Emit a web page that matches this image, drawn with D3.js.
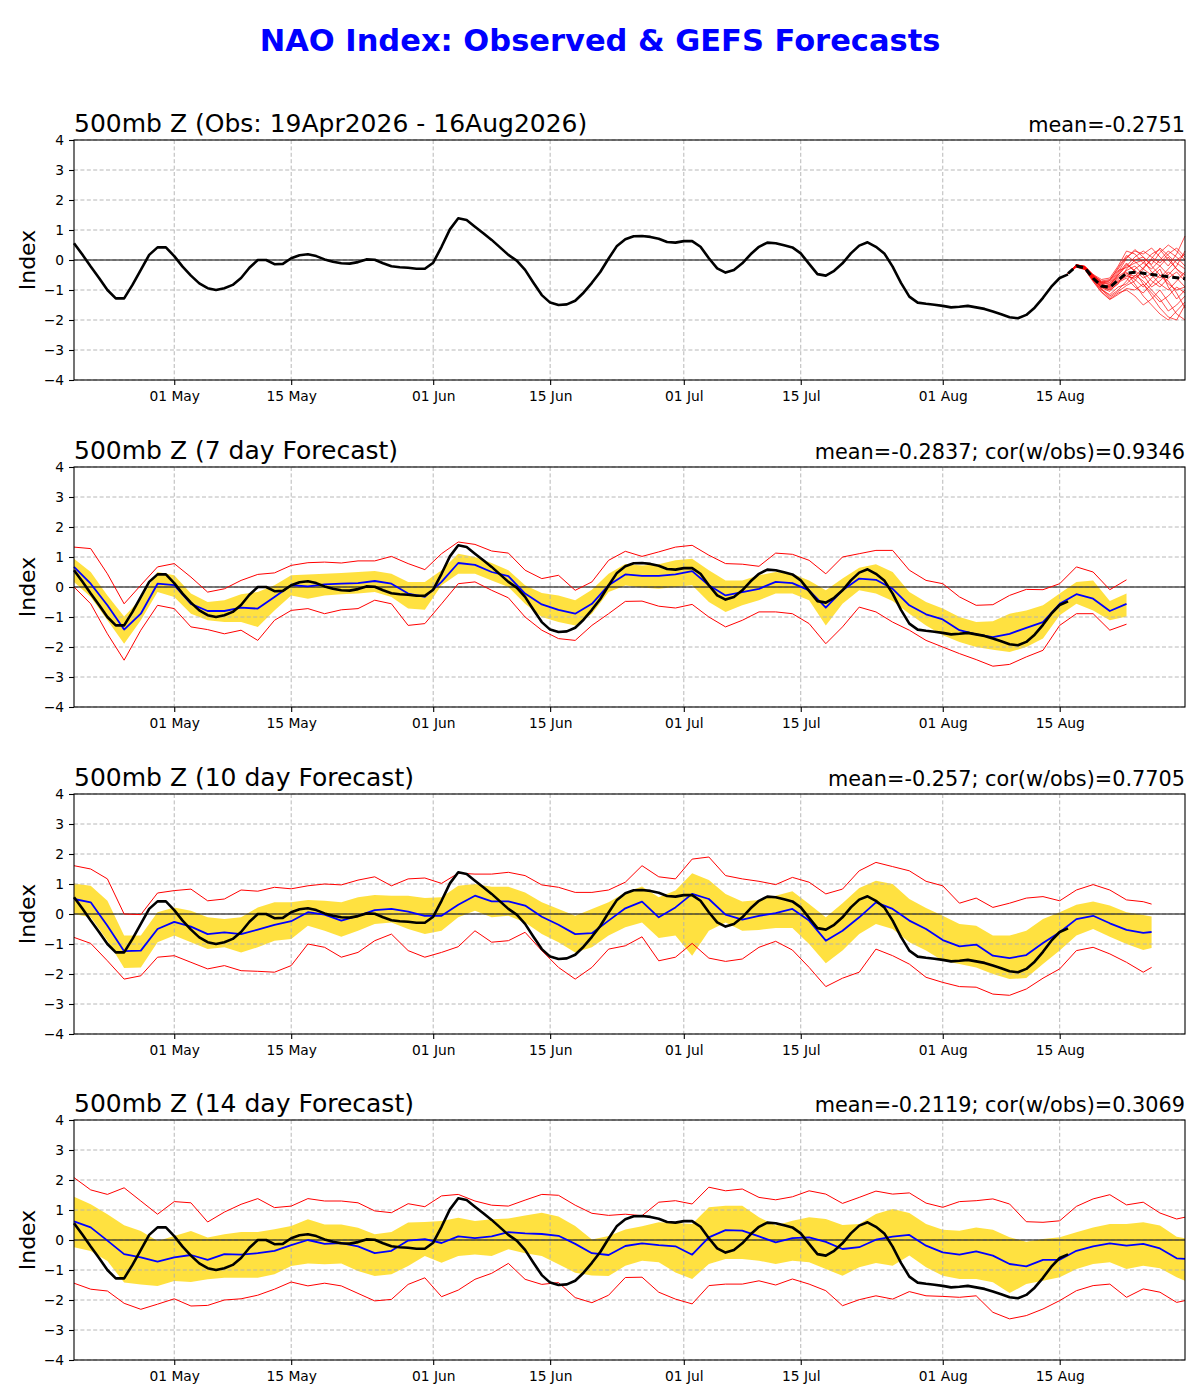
<!DOCTYPE html>
<html>
<head>
<meta charset="utf-8">
<title>NAO Index: Observed &amp; GEFS Forecasts</title>
<script src="https://cdn.jsdelivr.net/npm/d3@7/dist/d3.min.js"></script>
<style>
  body { margin: 0; background: #fff; }
  svg text { font-family: "DejaVu Sans", sans-serif; fill: #000; }
</style>
</head>
<body>
<div id="chart"></div>
<script>
// ---------------- data ----------------
const startDate = new Date(Date.UTC(2026, 3, 19));   // 19 Apr 2026 = day 0
const endDate = new Date(Date.UTC(2026, 7, 30));     // 30 Aug 2026 = day 133
const xTickDates = ['2026-05-01', '2026-05-15', '2026-06-01', '2026-06-15',
                    '2026-07-01', '2026-07-15', '2026-08-01', '2026-08-15'];
const yTicks = [-4, -3, -2, -1, 0, 1, 2, 3, 4];

const panelTitles = ['500mb Z (Obs: 19Apr2026 - 16Aug2026)', '500mb Z (7 day Forecast)',
                     '500mb Z (10 day Forecast)', '500mb Z (14 day Forecast)'];
const panelStats = ['mean=-0.2751', 'mean=-0.2837; cor(w/obs)=0.9346',
                    'mean=-0.257; cor(w/obs)=0.7705', 'mean=-0.2119; cor(w/obs)=0.3069'];

// observed NAO index, daily from 19 Apr to 16 Aug
const obsIndex = [
  0.56, 0.18, -0.22, -0.60, -1.00, -1.28, -1.28, -0.83, -0.33, 0.17,
  0.42, 0.42, 0.13, -0.22, -0.52, -0.78, -0.94, -1.00, -0.94, -0.83,
  -0.60, -0.26, 0.00, 0.00, -0.14, -0.13, 0.06, 0.16, 0.19, 0.13,
  0.02, -0.06, -0.11, -0.12, -0.07, 0.02, 0.01, -0.11, -0.21, -0.24,
  -0.26, -0.29, -0.29, -0.09, 0.44, 1.02, 1.39, 1.33, 1.11, 0.89,
  0.67, 0.42, 0.17, -0.02, -0.33, -0.76, -1.17, -1.42, -1.50, -1.48,
  -1.36, -1.09, -0.76, -0.40, 0.05, 0.47, 0.69, 0.79, 0.80, 0.77,
  0.71, 0.60, 0.58, 0.63, 0.63, 0.44, 0.06, -0.28, -0.42, -0.33,
  -0.11, 0.19, 0.44, 0.58, 0.56, 0.49, 0.42, 0.22, -0.13, -0.47,
  -0.52, -0.36, -0.11, 0.22, 0.48, 0.59, 0.44, 0.22, -0.22, -0.76,
  -1.22, -1.42, -1.46, -1.49, -1.53, -1.58, -1.56, -1.53, -1.58, -1.63,
  -1.72, -1.81, -1.91, -1.94, -1.83, -1.59, -1.26, -0.89, -0.60, -0.48
];

// GEFS ensemble members from 16 Aug to 30 Aug (days 119..133)
const ensDays = d3.range(119, 134);
const ensMembers = [
  [-0.45, -0.15, -0.22, -0.50, -0.70, -0.65, -0.30, 0.10, 0.30, 0.20, 0.40, 0.10, -0.20, 0.20, 0.80],
  [-0.45, -0.18, -0.25, -0.55, -0.80, -0.90, -0.60, -0.40, -0.80, -1.20, -1.50, -1.80, -2.00, -1.70, -1.40],
  [-0.45, -0.20, -0.28, -0.62, -0.95, -1.20, -1.00, -0.70, -0.30, -0.10, 0.20, 0.35, 0.00, -0.30, -0.50],
  [-0.45, -0.22, -0.30, -0.70, -1.05, -1.30, -1.10, -1.00, -1.20, -1.50, -1.30, -1.00, -1.40, -1.80, -2.00],
  [-0.45, -0.17, -0.20, -0.48, -0.65, -0.60, -0.20, 0.30, 0.20, -0.10, -0.30, 0.00, 0.30, 0.10, -0.20],
  [-0.45, -0.19, -0.24, -0.58, -0.85, -0.95, -0.70, -0.55, -0.60, -0.40, -0.70, -0.90, -0.60, -0.40, -0.70],
  [-0.45, -0.21, -0.27, -0.65, -0.90, -1.00, -0.80, -0.30, 0.00, 0.10, -0.20, -0.50, -0.80, -1.00, -0.90],
  [-0.45, -0.16, -0.23, -0.52, -0.75, -0.80, -0.45, -0.10, -0.40, -0.80, -1.10, -1.40, -1.20, -0.90, -1.10],
  [-0.45, -0.20, -0.26, -0.60, -0.88, -0.85, -0.50, -0.20, 0.10, 0.30, 0.10, -0.10, 0.20, 0.40, 0.10],
  [-0.45, -0.23, -0.31, -0.68, -1.00, -1.15, -0.90, -0.80, -0.50, -0.70, -1.00, -1.30, -1.70, -1.50, -1.20],
  [-0.45, -0.18, -0.24, -0.56, -0.78, -0.70, -0.35, -0.25, -0.10, 0.00, -0.40, -0.60, -0.30, 0.00, 0.20],
  [-0.45, -0.20, -0.29, -0.64, -0.92, -1.05, -0.75, -0.60, -0.90, -1.10, -0.80, -0.50, -0.70, -1.10, -1.60],
  [-0.45, -0.17, -0.21, -0.50, -0.72, -0.75, -0.40, 0.05, 0.35, 0.10, -0.15, 0.25, 0.50, 0.30, 0.00],
  [-0.45, -0.22, -0.28, -0.66, -0.98, -1.25, -1.05, -0.85, -0.70, -0.30, -0.50, -0.80, -1.00, -0.70, -0.40],
  [-0.45, -0.19, -0.25, -0.57, -0.82, -0.88, -0.55, -0.35, -0.20, -0.50, -0.90, -0.70, -0.40, -0.60, -0.90],
  [-0.45, -0.21, -0.26, -0.61, -0.87, -0.92, -0.65, -0.45, -0.55, -0.25, 0.00, -0.20, -0.50, -0.20, 0.30],
  [-0.45, -0.16, -0.22, -0.54, -0.77, -0.82, -0.50, -0.15, -0.35, -0.60, -0.45, -0.20, 0.10, -0.30, -0.60],
  [-0.45, -0.24, -0.32, -0.72, -1.08, -1.32, -1.15, -0.95, -1.00, -0.80, -1.20, -1.60, -1.90, -2.00, -1.50],
  [-0.45, -0.18, -0.23, -0.53, -0.74, -0.68, -0.25, 0.15, -0.05, -0.30, 0.05, 0.40, 0.15, -0.10, -0.30],
  [-0.45, -0.20, -0.27, -0.62, -0.90, -0.98, -0.72, -0.50, -0.65, -0.90, -0.60, -0.30, -0.90, -1.30, -1.00]
];
const ensMean = [-0.45, -0.20, -0.26, -0.61, -0.87, -0.91, -0.67, -0.44, -0.41, -0.44, -0.48, -0.52, -0.56, -0.59, -0.62];

// 7 day forecast, every 2 days (days 0..126)
const f7Days = d3.range(0, 127, 2);
const f7Max = [
  1.33, 1.28, 0.44, -0.56, 0.06, 0.67, 0.78, 0.33, -0.17, -0.06,
  0.22, 0.42, 0.47, 0.72, 0.81, 0.83, 0.80, 0.87, 0.87, 1.02,
  0.78, 0.58, 1.11, 1.50, 1.42, 1.20, 1.13, 0.56, 0.28, 0.39,
  -0.11, 0.17, 0.89, 1.19, 1.02, 1.17, 1.33, 1.39, 1.06, 0.78,
  0.76, 0.69, 1.13, 1.09, 0.89, 0.44, 1.00, 1.11, 1.22, 1.22,
  0.56, 0.22, 0.11, -0.33, -0.61, -0.59, -0.28, -0.08, -0.09, 0.11,
  0.67, 0.50, -0.09, 0.24
];
const f7Hi = [
  0.94, 0.50, -0.28, -0.98, -0.39, 0.50, 0.39, -0.22, -0.50, -0.44,
  -0.24, -0.17, 0.06, 0.39, 0.42, 0.44, 0.47, 0.50, 0.53, 0.44,
  0.17, 0.17, 0.56, 1.11, 1.00, 0.80, 0.56, 0.06, -0.20, -0.28,
  -0.44, -0.09, 0.44, 0.77, 0.72, 0.76, 0.89, 0.94, 0.56, 0.22,
  0.22, 0.39, 0.50, 0.44, 0.22, -0.11, 0.28, 0.64, 0.76, 0.50,
  -0.17, -0.50, -0.72, -1.00, -1.17, -1.14, -0.89, -0.78, -0.61, -0.22,
  0.17, 0.22, -0.47, -0.22
];
const f7Mean = [
  0.67, 0.11, -0.61, -1.42, -0.89, 0.11, 0.06, -0.56, -0.80, -0.80,
  -0.69, -0.72, -0.33, 0.06, 0.02, 0.09, 0.11, 0.13, 0.20, 0.11,
  -0.22, -0.33, 0.17, 0.80, 0.74, 0.50, 0.36, -0.22, -0.58, -0.76,
  -0.89, -0.56, 0.06, 0.42, 0.37, 0.37, 0.42, 0.53, 0.06, -0.28,
  -0.17, -0.06, 0.17, 0.13, -0.11, -0.69, -0.11, 0.28, 0.24, -0.06,
  -0.61, -0.91, -1.08, -1.44, -1.58, -1.67, -1.56, -1.36, -1.17, -0.56,
  -0.24, -0.39, -0.80, -0.56
];
const f7Lo = [
  0.17, -0.33, -1.11, -1.89, -1.11, -0.17, -0.33, -0.89, -1.11, -1.17,
  -1.17, -1.33, -0.78, -0.28, -0.39, -0.28, -0.24, -0.22, -0.17, -0.33,
  -0.72, -0.76, 0.06, 0.44, 0.44, 0.22, 0.00, -0.56, -1.00, -1.17,
  -1.28, -0.89, -0.17, 0.05, -0.02, -0.06, 0.00, 0.06, -0.50, -0.83,
  -0.61, -0.44, -0.22, -0.22, -0.44, -1.28, -0.56, -0.11, -0.22, -0.47,
  -0.89, -1.28, -1.61, -1.83, -2.00, -2.09, -2.17, -2.00, -1.72, -0.94,
  -0.56, -0.78, -1.11, -0.98
];
const f7Min = [
  0.00, -0.56, -1.56, -2.44, -1.44, -0.61, -0.72, -1.33, -1.42, -1.56,
  -1.44, -1.78, -1.11, -0.78, -0.72, -0.89, -0.76, -0.72, -0.44, -0.56,
  -1.28, -1.22, -0.56, 0.11, 0.17, -0.11, -0.36, -1.00, -1.44, -1.72,
  -1.78, -1.28, -0.89, -0.48, -0.47, -0.64, -0.70, -0.58, -1.00, -1.33,
  -1.11, -0.83, -0.83, -0.89, -1.22, -1.89, -1.33, -0.67, -0.83, -1.17,
  -1.44, -1.78, -2.00, -2.22, -2.42, -2.64, -2.58, -2.33, -2.11, -1.28,
  -0.89, -0.89, -1.44, -1.24
];

// 10 day forecast (days 0..128 every 2 days, then 129)
const f10Days = d3.range(0, 129, 2).concat([129]);
const f10Max = [
  1.61, 1.50, 1.17, 0.00, -0.02, 0.70, 0.78, 0.83, 0.44, 0.50,
  0.80, 0.76, 0.89, 0.84, 0.94, 1.00, 0.97, 1.13, 1.24, 0.94,
  1.17, 1.20, 1.02, 1.36, 1.33, 1.33, 1.39, 1.28, 0.97, 0.89,
  0.72, 0.72, 0.80, 1.06, 1.61, 1.24, 1.17, 1.83, 1.90, 1.28,
  1.17, 1.09, 0.98, 1.22, 1.06, 0.67, 0.83, 1.44, 1.72, 1.58,
  1.44, 1.09, 0.94, 0.36, 0.53, 0.22, 0.36, 0.53, 0.58, 0.44,
  0.80, 0.98, 0.80, 0.47, 0.41, 0.33
];
const f10Hi = [
  1.02, 0.94, 0.44, -0.72, -0.72, 0.06, 0.22, 0.11, -0.11, -0.17,
  -0.11, 0.22, 0.39, 0.39, 0.47, 0.44, 0.39, 0.56, 0.63, 0.61,
  0.61, 0.53, 0.56, 0.94, 1.00, 0.91, 0.91, 0.72, 0.39, 0.17,
  -0.06, 0.17, 0.39, 0.72, 0.92, 0.56, 0.78, 1.36, 1.13, 0.67,
  0.42, 0.47, 0.61, 0.76, 0.33, -0.11, 0.36, 0.87, 1.11, 1.00,
  0.50, 0.20, -0.06, -0.33, -0.39, -0.72, -0.72, -0.56, -0.17, 0.06,
  0.31, 0.42, 0.28, 0.06, -0.03, -0.08
];
const f10Mean = [
  0.50, 0.39, -0.39, -1.24, -1.22, -0.50, -0.26, -0.42, -0.67, -0.61,
  -0.67, -0.52, -0.36, -0.24, 0.06, -0.02, -0.22, -0.06, 0.13, 0.17,
  0.08, -0.06, -0.06, 0.31, 0.61, 0.42, 0.42, 0.28, -0.09, -0.36,
  -0.67, -0.64, -0.22, 0.19, 0.41, -0.11, 0.22, 0.67, 0.50, -0.02,
  -0.19, -0.06, 0.03, 0.17, -0.22, -0.89, -0.56, -0.11, 0.39, 0.17,
  -0.22, -0.50, -0.87, -1.08, -1.02, -1.39, -1.47, -1.37, -0.97, -0.61,
  -0.17, -0.06, -0.31, -0.53, -0.63, -0.60
];
const f10Lo = [
  0.00, -0.11, -0.89, -1.80, -1.78, -0.94, -0.72, -0.94, -1.17, -1.11,
  -1.28, -1.11, -0.89, -0.83, -0.39, -0.56, -0.76, -0.56, -0.33, -0.28,
  -0.50, -0.67, -0.56, -0.11, 0.11, -0.11, -0.06, -0.28, -0.67, -0.94,
  -1.28, -1.11, -0.72, -0.44, -0.28, -0.80, -0.72, -1.39, -0.56, -0.28,
  -0.56, -0.53, -0.47, -0.47, -1.00, -1.64, -1.22, -0.67, -0.33, -0.50,
  -0.94, -1.22, -1.56, -1.67, -1.78, -2.00, -2.17, -2.13, -1.67, -1.22,
  -0.72, -0.50, -0.76, -1.00, -1.20, -1.13
];
const f10Min = [
  -0.78, -0.98, -1.56, -2.17, -2.06, -1.44, -1.39, -1.61, -1.83, -1.72,
  -1.89, -1.91, -1.94, -1.72, -1.00, -1.11, -1.44, -1.28, -0.89, -0.67,
  -1.22, -1.44, -1.28, -1.09, -0.56, -0.94, -0.89, -0.61, -1.22, -1.78,
  -2.17, -1.78, -1.17, -1.06, -0.76, -1.56, -1.44, -0.98, -1.47, -1.58,
  -1.50, -1.11, -0.91, -1.20, -1.78, -2.42, -2.14, -1.94, -1.17, -1.39,
  -1.67, -2.11, -2.28, -2.42, -2.44, -2.67, -2.71, -2.50, -2.14, -1.83,
  -1.22, -1.11, -1.33, -1.61, -1.94, -1.78
];

// 14 day forecast (days 0..132 every 2 days, then 133)
const f14Days = d3.range(0, 133, 2).concat([133]);
const f14Max = [
  2.08, 1.67, 1.52, 1.74, 1.30, 0.86, 1.28, 1.24, 0.60, 0.93,
  1.19, 1.38, 1.08, 1.13, 1.38, 1.30, 1.30, 1.24, 0.97, 0.91,
  1.21, 1.11, 1.47, 1.52, 1.30, 1.16, 1.13, 1.33, 1.52, 1.49,
  1.16, 0.89, 0.82, 0.86, 0.81, 1.26, 1.31, 1.20, 1.76, 1.64,
  1.70, 1.42, 1.34, 1.44, 1.64, 1.53, 1.22, 1.42, 1.63, 1.53,
  1.57, 1.23, 1.09, 1.28, 1.31, 1.37, 1.20, 0.61, 0.59, 0.64,
  1.12, 1.37, 1.51, 1.17, 1.26, 0.90, 0.70, 0.76
];
const f14Hi = [
  1.44, 1.19, 0.86, 0.49, 0.30, -0.03, 0.13, 0.30, 0.08, 0.19,
  0.27, 0.27, 0.36, 0.47, 0.69, 0.52, 0.52, 0.41, 0.19, 0.27,
  0.58, 0.60, 0.63, 0.74, 0.63, 0.69, 0.72, 0.82, 0.91, 0.78,
  0.47, 0.02, 0.13, 0.35, 0.46, 0.59, 0.57, 0.53, 1.09, 1.14,
  1.14, 0.76, 0.48, 0.64, 0.76, 0.70, 0.50, 0.53, 0.87, 1.03,
  0.90, 0.53, 0.34, 0.31, 0.42, 0.34, 0.09, -0.06, 0.03, 0.09,
  0.26, 0.42, 0.53, 0.53, 0.59, 0.48, 0.11, 0.06
];
const f14Mean = [
  0.62, 0.42, -0.02, -0.47, -0.58, -0.72, -0.58, -0.50, -0.66, -0.47,
  -0.49, -0.44, -0.36, -0.17, 0.00, -0.13, -0.10, -0.21, -0.44, -0.36,
  -0.02, 0.03, -0.10, 0.12, 0.06, 0.12, 0.26, 0.22, 0.20, 0.14,
  -0.13, -0.44, -0.50, -0.20, -0.11, -0.17, -0.21, -0.49, 0.09, 0.33,
  0.31, 0.12, -0.08, 0.06, 0.09, -0.06, -0.30, -0.24, 0.01, 0.11,
  0.17, -0.19, -0.41, -0.49, -0.38, -0.52, -0.80, -0.88, -0.66, -0.66,
  -0.36, -0.21, -0.11, -0.19, -0.13, -0.28, -0.61, -0.63
];
const f14Lo = [
  -0.24, -0.37, -0.70, -1.42, -1.48, -1.53, -1.37, -1.40, -1.31, -1.26,
  -1.26, -1.26, -1.14, -0.87, -0.78, -0.81, -0.78, -1.03, -1.20, -1.14,
  -0.87, -0.53, -0.76, -0.53, -0.48, -0.53, -0.31, -0.44, -0.53, -0.81,
  -1.09, -1.18, -1.20, -0.86, -0.69, -0.74, -1.08, -1.30, -0.80, -0.63,
  -0.63, -0.69, -0.80, -0.69, -0.74, -0.97, -1.19, -0.91, -0.77, -0.86,
  -0.52, -0.91, -1.19, -1.30, -1.30, -1.41, -1.77, -1.47, -1.36, -1.24,
  -0.97, -0.80, -0.74, -0.97, -0.86, -0.94, -1.24, -1.36
];
const f14Min = [
  -1.44, -1.64, -1.70, -2.11, -2.31, -2.14, -1.96, -2.20, -2.18, -2.00,
  -1.96, -1.84, -1.64, -1.40, -1.53, -1.44, -1.53, -1.78, -2.03, -1.98,
  -1.48, -1.26, -1.89, -1.67, -1.31, -1.11, -0.78, -1.31, -1.48, -1.42,
  -1.92, -2.09, -1.84, -1.25, -1.24, -1.74, -1.97, -2.13, -1.52, -1.47,
  -1.47, -1.36, -1.50, -1.30, -1.47, -1.69, -2.19, -1.99, -1.86, -1.97,
  -1.72, -1.86, -1.88, -1.91, -1.86, -2.41, -2.63, -2.52, -2.30, -2.02,
  -1.69, -1.52, -1.47, -1.91, -1.63, -1.74, -2.08, -2.02
];

// ---------------- layout ----------------
const width = 1200, height = 1400;
const plotLeft = 74, plotW = 1111, plotH = 240;
const panelTops = [140, 467, 794, 1120];

const svg = d3.select('#chart')
    .append('svg')
    .attr('width', width)
    .attr('height', height);

// Main title
svg.append('text')
    .attr('x', 600)
    .attr('y', 51)
    .attr('text-anchor', 'middle')
    .style('font-size', '30.5px')
    .style('font-weight', 'bold')
    .style('fill', '#0000ff')
    .text('NAO Index: Observed & GEFS Forecasts');

const x = d3.scaleUtc().domain([startDate, endDate]).range([0, plotW]);
const y = d3.scaleLinear().domain([-4, 4]).range([plotH, 0]);
const dayX = d => x(d3.utcDay.offset(startDate, d));
const parseDay = d3.utcParse('%Y-%m-%d');
const tickDates = xTickDates.map(parseDay);

const line = d3.line()
    .x(d => dayX(d.day))
    .y(d => y(d.v));

const band = d3.area()
    .x(d => dayX(d.day))
    .y0(d => y(d.lo))
    .y1(d => y(d.hi));

const obsRows = obsIndex.map((v, i) => ({day: i, v: v}));

function series(days, vals) {
    return days.map((d, i) => ({day: d, v: vals[i]}));
}

// Draw the frame, grid, ticks and titles of one panel
function makePanel(i) {
    const g = svg.append('g')
        .attr('transform', `translate(${plotLeft},${panelTops[i]})`);

    g.append('g').attr('class', 'under');

    // grid
    const grid = g.append('g').attr('class', 'grid');
    grid.selectAll('line.gy')
        .data(yTicks)
        .enter().append('line')
        .attr('x1', 0).attr('x2', plotW)
        .attr('y1', d => y(d)).attr('y2', d => y(d));
    grid.selectAll('line.gx')
        .data(tickDates)
        .enter().append('line')
        .attr('x1', d => x(d)).attr('x2', d => x(d))
        .attr('y1', 0).attr('y2', plotH);
    grid.selectAll('line')
        .style('stroke', '#b0b0b0')
        .style('stroke-width', 0.9)
        .style('stroke-dasharray', '4,2.4');

    // zero line
    g.append('line')
        .attr('x1', 0).attr('x2', plotW)
        .attr('y1', y(0)).attr('y2', y(0))
        .style('stroke', '#000')
        .style('stroke-width', 1);

    // axes
    const yAxis = g.append('g')
        .call(d3.axisLeft(y)
            .tickValues(yTicks)
            .tickSize(5)
            .tickPadding(5)
            .tickFormat(d => d < 0 ? '\u2212' + Math.abs(d) : String(d)));
    const xAxis = g.append('g')
        .attr('transform', `translate(0,${plotH})`)
        .call(d3.axisBottom(x)
            .tickValues(tickDates)
            .tickSize(5)
            .tickPadding(6)
            .tickFormat(d3.utcFormat('%d %b')));
    [yAxis, xAxis].forEach(a => {
        a.select('.domain').remove();
        a.selectAll('text')
            .style('font-family', '"DejaVu Sans", sans-serif')
            .style('font-size', '13.8px')
            .style('fill', '#000');
        a.selectAll('line').style('stroke', '#000').style('stroke-width', 1.1);
    });

    // titles
    g.append('text')
        .attr('x', 0)
        .attr('y', -8)
        .style('font-size', '25px')
        .text(panelTitles[i]);
    g.append('text')
        .attr('x', plotW)
        .attr('y', -8)
        .attr('text-anchor', 'end')
        .style('font-size', '20.8px')
        .text(panelStats[i]);
    g.append('text')
        .attr('transform', `translate(-39,${plotH / 2}) rotate(-90)`)
        .attr('text-anchor', 'middle')
        .style('font-size', '22px')
        .text('Index');

    return g;
}

function frame(g) {
    g.append('rect')
        .attr('x', 0).attr('y', 0)
        .attr('width', plotW).attr('height', plotH)
        .style('fill', 'none')
        .style('stroke', '#000')
        .style('stroke-width', 1.1);
}

function drawObs(g) {
    g.append('path')
        .datum(obsRows)
        .attr('d', line)
        .style('fill', 'none')
        .style('stroke', '#000')
        .style('stroke-width', 2.6)
        .style('stroke-linejoin', 'round');
}

// ---------- panel 1: observations + ensemble ----------
const p1 = makePanel(0);
drawObs(p1);
p1.selectAll('path.member')
    .data(ensMembers)
    .enter().append('path')
    .attr('class', 'member')
    .attr('d', m => line(series(ensDays, m)))
    .style('fill', 'none')
    .style('stroke', '#ff0000')
    .style('stroke-opacity', 0.85)
    .style('stroke-width', 0.8);
p1.append('path')
    .datum(series(ensDays, ensMean))
    .attr('d', line)
    .style('fill', 'none')
    .style('stroke', '#000')
    .style('stroke-width', 3)
    .style('stroke-dasharray', '7,4');
frame(p1);

// ---------- panels 2-4: forecasts ----------
const forecasts = [
    {days: f7Days, max: f7Max, hi: f7Hi, mean: f7Mean, lo: f7Lo, min: f7Min},
    {days: f10Days, max: f10Max, hi: f10Hi, mean: f10Mean, lo: f10Lo, min: f10Min},
    {days: f14Days, max: f14Max, hi: f14Hi, mean: f14Mean, lo: f14Lo, min: f14Min}
];

forecasts.forEach((f, k) => {
    const g = makePanel(k + 1);

    // spread band sits under the grid
    g.select('g.under').append('path')
        .datum(f.days.map((d, i) => ({day: d, lo: f.lo[i], hi: f.hi[i]})))
        .attr('d', band)
        .style('fill', '#ffd700')
        .style('fill-opacity', 0.75)
        .style('stroke', 'none');

    [f.max, f.min].forEach(vals => {
        g.append('path')
            .datum(series(f.days, vals))
            .attr('d', line)
            .style('fill', 'none')
            .style('stroke', '#ff0000')
            .style('stroke-width', 1);
    });

    g.append('path')
        .datum(series(f.days, f.mean))
        .attr('d', line)
        .style('fill', 'none')
        .style('stroke', '#0000ff')
        .style('stroke-width', 1.8)
        .style('stroke-linejoin', 'round');

    drawObs(g);
    frame(g);
});
</script>
</body>
</html>
